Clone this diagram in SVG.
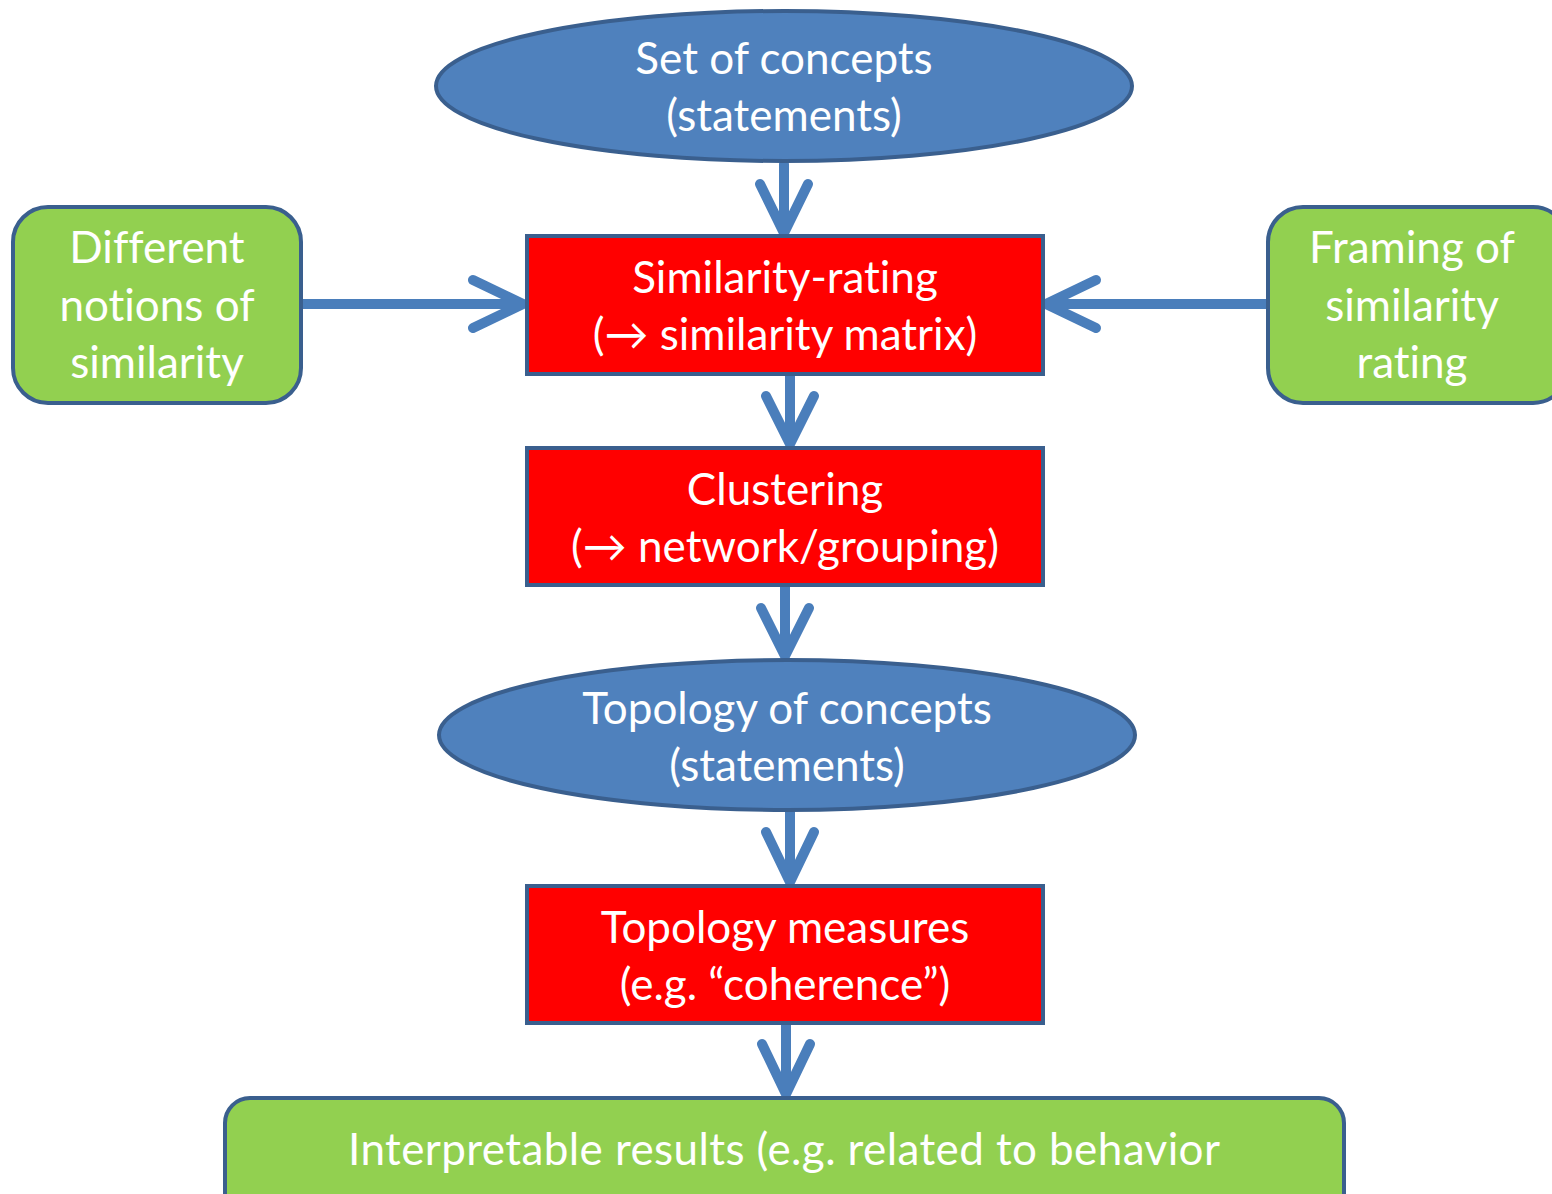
<svg xmlns="http://www.w3.org/2000/svg" width="1552" height="1194" viewBox="0 0 1552 1194">
<style>
.ell{fill:#4F81BD;stroke:#3A5F8E;stroke-width:4}
.red{fill:#FF0000;stroke:#3A5F8E;stroke-width:4}
.grn{fill:#92D050;stroke:#3A5F8E;stroke-width:4}
.t{font-family:Lato,"Open Sans","Liberation Sans",sans-serif;font-size:44px;fill:#FFFFFF;text-anchor:middle;font-variant-ligatures:none}
.c{fill:none;stroke:#4A7EBB;stroke-width:10;stroke-linecap:round;stroke-linejoin:round}
</style>
<rect width="1552" height="1194" fill="#FFFFFF"/>
<g id="connectors">
<path class="c" d="M784 164V233M760 184L784 233L808 184"/>
<path class="c" d="M303 304H523M473 280L523 304L473 328"/>
<path class="c" d="M1266 304H1046M1096 280L1046 304L1096 328"/>
<path class="c" d="M790 376V444M766 396L790 444L814 396"/>
<path class="c" d="M785 587V656M761 608L785 656L809 608"/>
<path class="c" d="M790 812V882M766 832L790 882L814 832"/>
<path class="c" d="M786 1025V1094M762 1044L786 1094L810 1044"/>
</g>
<g id="n1"><ellipse class="ell" cx="784" cy="86" rx="348" ry="75"/>
<text class="t" x="784" y="74">Set of concepts</text><text class="t" x="784" y="131">(statements)</text></g>
<g id="n2"><rect class="red" x="527" y="236" width="516" height="138"/>
<text class="t" x="785" y="293">Similarity-rating</text><text class="t" x="785" y="350">(→ similarity matrix)</text></g>
<g id="n3"><rect class="grn" x="13" y="207" width="288" height="196" rx="35"/>
<text class="t" x="157" y="263">Different</text><text class="t" x="157" y="321">notions of</text><text class="t" x="157" y="378">similarity</text></g>
<g id="n4"><rect class="grn" x="1268" y="207" width="300" height="196" rx="35"/>
<text class="t" x="1412" y="263">Framing of</text><text class="t" x="1412" y="321">similarity</text><text class="t" x="1412" y="378">rating</text></g>
<g id="n5"><rect class="red" x="527" y="448" width="516" height="137"/>
<text class="t" x="785" y="505">Clustering</text><text class="t" x="785" y="562">(→ network/grouping)</text></g>
<g id="n6"><ellipse class="ell" cx="787" cy="735" rx="348" ry="75"/>
<text class="t" x="787" y="724">Topology of concepts</text><text class="t" x="787" y="781">(statements)</text></g>
<g id="n7"><rect class="red" x="527" y="886" width="516" height="137"/>
<text class="t" x="785" y="943">Topology measures</text><text class="t" x="785" y="1000">(e.g. “coherence”)</text></g>
<g id="n8"><rect class="grn" x="225" y="1098" width="1119" height="130" rx="25"/>
<text class="t" x="784" y="1165" textLength="872" lengthAdjust="spacing">Interpretable results (e.g. related to behavior</text></g>
</svg>
